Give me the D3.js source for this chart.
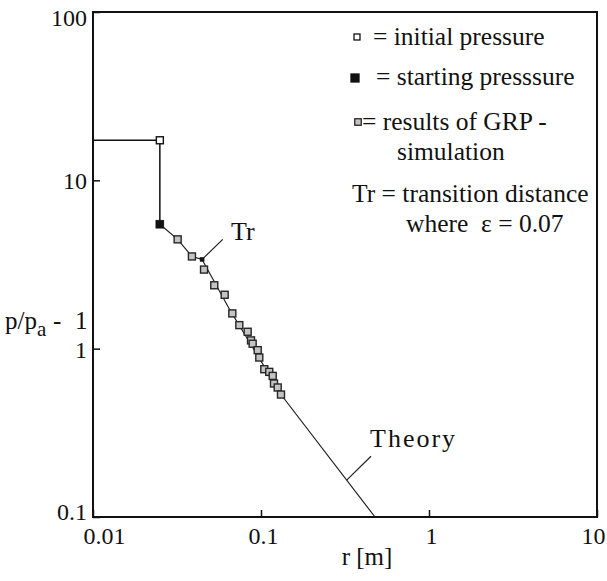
<!DOCTYPE html>
<html>
<head>
<meta charset="utf-8">
<script src="https://cdn.jsdelivr.net/npm/d3@7"></script>
<style>
  body { margin: 0; background: #fff; }
</style>
</head>
<body>
<div id="chart"></div>
<script>
// Data (r in m, p/pa - 1)
const xTicks = [0.01, 0.1, 1, 10];
const yTicks = [0.1, 1, 10, 100];

const historyR = [0.01, 0.025, 0.025];
const historyP = [17.3, 17.3, 5.49];

const initialR = [0.025];
const initialP = [17.3];

const startingR = [0.025];
const startingP = [5.49];

const trR = [0.0446];
const trP = [3.39];

const grpR = [0.0319, 0.0388, 0.0458, 0.0527, 0.0608, 0.0675, 0.0743, 0.0833, 0.0872, 0.0892,
              0.0956, 0.0977, 0.1046, 0.112, 0.1174, 0.1195, 0.1257, 0.1315];
const grpP = [4.46, 3.53, 2.95, 2.38, 2.09, 1.62, 1.38, 1.26, 1.12, 1.07,
              0.98, 0.886, 0.755, 0.728, 0.689, 0.621, 0.588, 0.534];

const theoryR = [0.0446, 0.0654, 0.096, 0.1315, 0.477];
const theoryP = [3.39, 1.69, 0.903, 0.534, 0.1];

const legendLabels = ['= initial pressure', '= starting presssure', '= results of GRP -', 'simulation',
                      'Tr = transition distance', 'where  \u03b5 = 0.07'];

// Layout
const width = 607;
const height = 581;
const plot = { left: 93, right: 597, top: 12, bottom: 517 };
const serif = 'Liberation Serif';

const xScale = d3.scaleLog().domain([0.01, 10]).range([plot.left, plot.right]);
const yScale = d3.scaleLog().domain([0.1, 100]).range([plot.bottom, plot.top]);

const svg = d3.select('#chart')
  .append('svg')
  .attr('width', width)
  .attr('height', height)
  .attr('font-family', serif);

// Axes with short inner ticks
const fmt = d => d3.format('~g')(d);

const xAxis = svg.append('g')
  .attr('transform', `translate(0, ${plot.bottom})`)
  .call(d3.axisBottom(xScale).tickValues(xTicks).tickSize(-7).tickPadding(10).tickFormat(fmt));

const yAxis = svg.append('g')
  .attr('transform', `translate(${plot.left}, 0)`)
  .call(d3.axisLeft(yScale).tickValues(yTicks).tickSize(-7).tickPadding(6).tickFormat(fmt));

[xAxis, yAxis].forEach(ax => {
  ax.attr('font-family', serif).attr('font-size', 24);
  ax.select('.domain').remove();
  ax.selectAll('line').attr('stroke', '#111').attr('stroke-width', 1.5);
  ax.selectAll('text').attr('fill', '#111');
});

xAxis.selectAll('text').attr('dx', d => d === 0.01 ? 11 : (d === 10 ? -4 : 2));
yAxis.selectAll('text').attr('dy', d => d === 100 ? '0.55em' : (d === 0.1 ? '0.1em' : '0.35em'));

// Frame
svg.append('rect')
  .attr('x', plot.left)
  .attr('y', plot.top)
  .attr('width', plot.right - plot.left)
  .attr('height', plot.bottom - plot.top)
  .attr('fill', 'none')
  .attr('stroke', '#111')
  .attr('stroke-width', 2);

// Axis titles
const yTitle = svg.append('text')
  .attr('y', 329)
  .attr('font-size', 25)
  .attr('fill', '#111');
yTitle.append('tspan').attr('x', 5).text('p/p');
yTitle.append('tspan').attr('dy', 7).attr('font-size', 21).text('a');
yTitle.append('tspan').attr('dy', -7).attr('x', 53).text('-');
yTitle.append('tspan').attr('x', 75).text('1');

svg.append('text')
  .attr('x', 367)
  .attr('y', 565)
  .attr('text-anchor', 'middle')
  .attr('font-size', 25)
  .attr('fill', '#111')
  .text('r [m]');

// Lines
const zip = (rs, ps) => rs.map((r, i) => [r, ps[i]]);
const line = d3.line().x(d => xScale(d[0])).y(d => yScale(d[1]));

svg.append('path')
  .datum(zip(historyR, historyP))
  .attr('fill', 'none')
  .attr('stroke', '#111')
  .attr('stroke-width', 1.5)
  .attr('d', line);

const connectData = zip(startingR, startingP)
  .concat(zip(grpR.slice(0, 2), grpP.slice(0, 2)))
  .concat(zip(trR, trP));

svg.append('path')
  .datum(connectData)
  .attr('fill', 'none')
  .attr('stroke', '#222')
  .attr('stroke-width', 1.2)
  .attr('d', line);

svg.append('path')
  .datum(zip(theoryR, theoryP))
  .attr('fill', 'none')
  .attr('stroke', '#222')
  .attr('stroke-width', 1.2)
  .attr('d', line);

// Markers
function squares(data, size, fill, stroke, sw) {
  svg.append('g')
    .selectAll('rect')
    .data(data)
    .join('rect')
    .attr('x', d => xScale(d[0]) - size / 2)
    .attr('y', d => yScale(d[1]) - size / 2)
    .attr('width', size)
    .attr('height', size)
    .attr('fill', fill)
    .attr('stroke', stroke)
    .attr('stroke-width', sw);
}

squares(zip(grpR, grpP), 7, '#c4c4c4', '#262626', 1.4);
squares(zip(initialR, initialP), 7, '#fff', '#111', 1.4);
squares(zip(startingR, startingP), 8, '#111', '#111', 0.5);
squares(zip(trR, trP), 4, '#111', '#111', 0.5);

// Annotations
const trLabel = [0.0592, 4.46];
svg.append('line')
  .attr('x1', xScale(trR[0])).attr('y1', yScale(trP[0]))
  .attr('x2', xScale(trLabel[0])).attr('y2', yScale(trLabel[1]))
  .attr('stroke', '#222').attr('stroke-width', 1.2);
svg.append('text')
  .attr('x', xScale(0.0663))
  .attr('y', yScale(4.41))
  .attr('font-size', 26)
  .attr('fill', '#111')
  .text('Tr');

const theoryLeader = [[0.3236, 0.1655], [0.4517, 0.2297]];
svg.append('path')
  .datum(theoryLeader)
  .attr('fill', 'none')
  .attr('stroke', '#222')
  .attr('stroke-width', 1.2)
  .attr('d', line);
svg.append('text')
  .attr('x', xScale(0.4456))
  .attr('y', yScale(0.26))
  .attr('font-size', 26)
  .attr('letter-spacing', 2)
  .attr('fill', '#111')
  .text('Theory');

// Legend
const legendX = [373, 376, 362, 397, 352, 406];
const legendY = [45, 85, 130, 160, 202, 232];
const legend = svg.append('g');
legend.selectAll('text')
  .data(legendLabels)
  .join('text')
  .attr('x', (d, i) => legendX[i])
  .attr('y', (d, i) => legendY[i])
  .attr('font-size', 25.5)
  .attr('fill', '#111')
  .style('white-space', 'pre')
  .text(d => d);

const legendMarks = [
  { x: 357, y: 37, size: 6, fill: '#fff', stroke: '#111' },
  { x: 355, y: 78, size: 8, fill: '#111', stroke: '#111' },
  { x: 358, y: 122, size: 6.5, fill: '#c4c4c4', stroke: '#262626' }
];
legend.selectAll('rect')
  .data(legendMarks)
  .join('rect')
  .attr('x', d => d.x - d.size / 2)
  .attr('y', d => d.y - d.size / 2)
  .attr('width', d => d.size)
  .attr('height', d => d.size)
  .attr('fill', d => d.fill)
  .attr('stroke', d => d.stroke)
  .attr('stroke-width', 1.3);
</script>
</body>
</html>
